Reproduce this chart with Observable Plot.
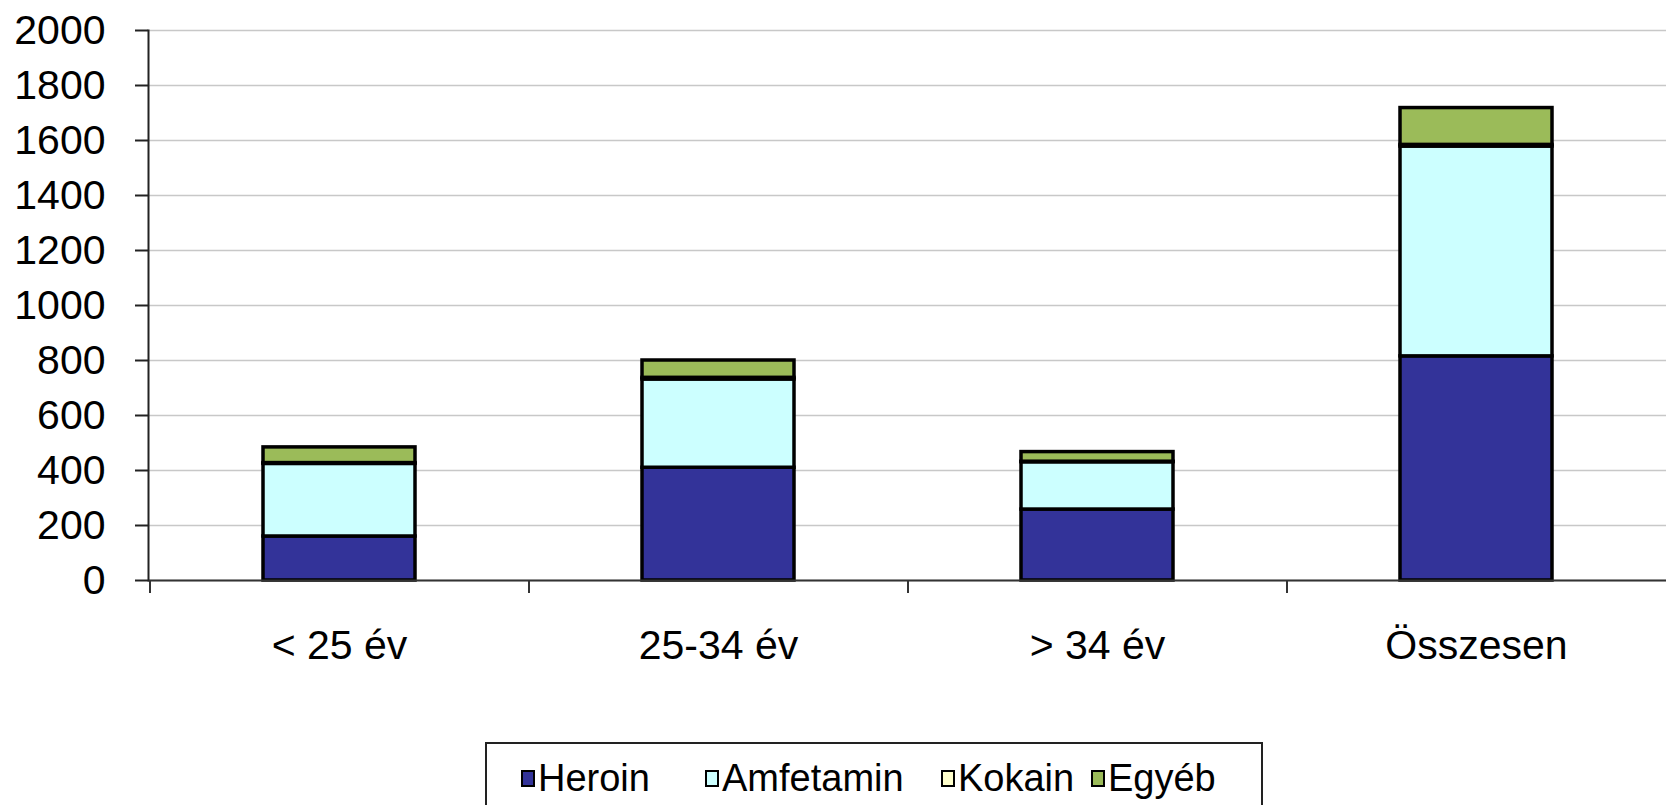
<!DOCTYPE html>
<html>
<head>
<meta charset="utf-8">
<script src="https://cdn.jsdelivr.net/npm/d3@7"></script>
<script src="https://cdn.jsdelivr.net/npm/@observablehq/plot@0.6"></script>
<style>
  html, body { margin: 0; padding: 0; background: #fff; overflow: hidden; }
  #chart svg { display: block; }
  #legend {
    position: absolute; left: 485px; top: 742px; width: 778px; height: 72px;
    border: 2px solid #222; box-sizing: border-box; background: #fff;
    font-family: "Liberation Sans", Arial, sans-serif; font-size: 38px; color: #000;
  }
  .item { position: absolute; top: 15px; height: 38px; line-height: 1; display: flex; align-items: center; white-space: nowrap; }
  .sw { width: 10px; height: 13px; border: 2.5px solid #000; margin-right: 3px; }
</style>
</head>
<body>
<div id="chart"></div>
<div id="legend"></div>
<script>
const categories = ["< 25 év", "25-34 év", "> 34 év", "Összesen"];
const drugs = ["Heroin", "Amfetamin", "Kokain", "Egyéb"];
const heroin    = [160, 410, 258, 815];
const amfetamin = [264, 321, 172, 763];
const kokain    = [3, 6, 2, 6];
const egyeb     = [57, 63, 35, 134];
const colors = ["#333399", "#ccffff", "#ffffcc", "#9bbb59"];
const yTicks = [0, 200, 400, 600, 800, 1000, 1200, 1400, 1600, 1800, 2000];

const series = [heroin, amfetamin, kokain, egyeb];
const data = [];
categories.forEach((c, i) => drugs.forEach((d, j) => data.push({cat: c, drug: d, value: series[j][i]})));

function boundaryTicks(index, scales, values, dimensions) {
  const x = scales.x, y = scales.y;
  const g = d3.create("svg:g").attr("stroke", "#333").attr("stroke-width", 2);
  const off = (x.step() - x.bandwidth()) / 2;
  for (const c of categories) {
    const px = Math.round(x(c) - off);
    g.append("line").attr("x1", px).attr("x2", px).attr("y1", y(0)).attr("y2", y(0) + 13);
  }
  return g.node();
}

const chart = Plot.plot({
  width: 1666, height: 735,
  marginLeft: 148, marginRight: 0, marginTop: 30, marginBottom: 155,
  style: {fontFamily: "'Liberation Sans', Arial, sans-serif", fontSize: "41px", color: "#000", background: "#fff"},
  x: {domain: categories, paddingInner: 0.6, paddingOuter: 0.3, label: null},
  y: {domain: [0, 2000], label: null},
  color: {domain: drugs, range: colors},
  marks: [
    Plot.gridY(yTicks, {stroke: "#c8c8c8", strokeOpacity: 1, strokeWidth: 1.5}),
    Plot.barY(data, {x: "cat", y: "value", fill: "drug", stroke: "#000", strokeWidth: 3.5, order: drugs}),
    Plot.ruleY([0], {stroke: "#333", strokeWidth: 2}),
    Plot.frame({anchor: "left", stroke: "#222", strokeWidth: 2}),
    Plot.axisY(yTicks, {tickSize: 13, tickPadding: 30, fontSize: 41, strokeWidth: 2, stroke: "#222", tickFormat: d => String(d)}),
    boundaryTicks,
    Plot.axisX({tickSize: 0, tickPadding: 49, fontSize: 41})
  ]
});
document.getElementById("chart").appendChild(chart);

const legend = document.getElementById("legend");
const lefts = [34, 218, 454, 604];
drugs.forEach((d, i) => {
  const it = document.createElement("div");
  it.className = "item";
  it.style.left = lefts[i] + "px";
  const sw = document.createElement("div");
  sw.className = "sw";
  sw.style.background = colors[i];
  const t = document.createElement("span");
  t.textContent = d;
  it.appendChild(sw); it.appendChild(t);
  legend.appendChild(it);
});
</script>
</body>
</html>
